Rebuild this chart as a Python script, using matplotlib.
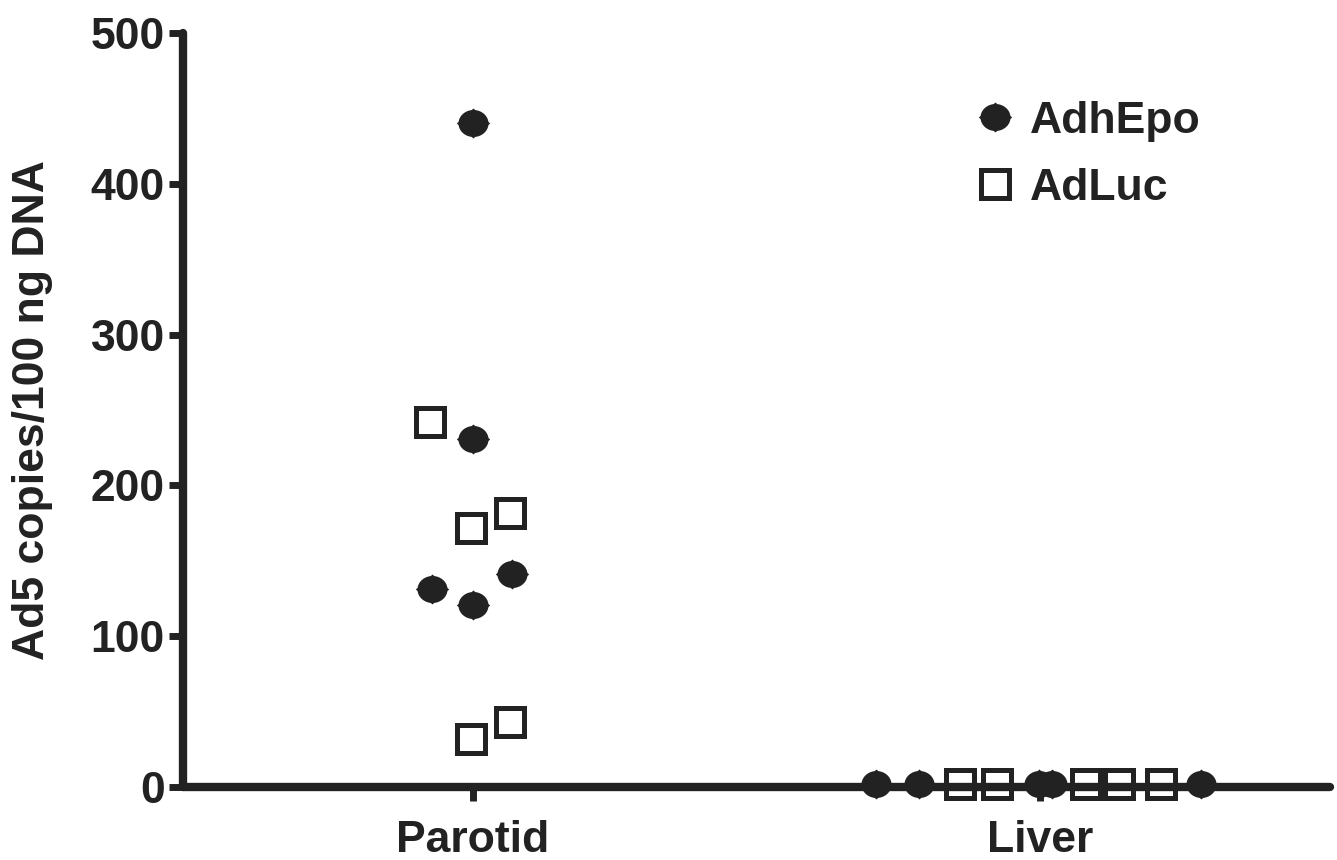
import numpy as np
import matplotlib
matplotlib.use("Agg")
import matplotlib.pyplot as plt
from matplotlib.path import Path

plt.rcParams['font.family'] = ['Liberation Sans', 'DejaVu Sans']
plt.rcParams['font.weight'] = 'bold'

INK = '#222222'

categories = ['Parotid', 'Liver']

# AdhEpo (filled)
adhepo_parotid_y = [440, 231, 131, 121, 141]
adhepo_parotid_dx = [0.0, 0.0, -0.072, 0.0, 0.070]
adhepo_liver_y = [2, 2, 2, 2, 2]
adhepo_liver_dx = [-0.290, -0.214, -0.002, 0.021, 0.283]

# AdLuc (open)
adluc_parotid_y = [242, 172, 182, 32, 43]
adluc_parotid_dx = [-0.075, -0.003, 0.066, -0.003, 0.066]
adluc_liver_y = [2, 2, 2, 2, 2]
adluc_liver_dx = [-0.141, -0.076, 0.080, 0.138, 0.212]

yticks = [0, 100, 200, 300, 400, 500]

# custom marker: rounded body with small diamond tips
th = np.linspace(0, 2 * np.pi, 121)
r_c = 0.9
r_d = 1.0 / (np.abs(np.cos(th)) + np.abs(np.sin(th)))
r = np.maximum(r_c, r_d)
verts = np.column_stack([r * np.cos(th), 0.9 * r * np.sin(th)])
blob = Path(verts, closed=True)

fig = plt.figure(figsize=(13.37, 8.6), dpi=100)
ax = fig.add_axes([183 / 1337, 1 - 787 / 860, (1330 - 183) / 1337, (787 - 33) / 860])

x_e = np.concatenate([0 + np.array(adhepo_parotid_dx), 1 + np.array(adhepo_liver_dx)])
y_e = np.concatenate([adhepo_parotid_y, adhepo_liver_y])
x_l = np.concatenate([0 + np.array(adluc_parotid_dx), 1 + np.array(adluc_liver_dx)])
y_l = np.concatenate([adluc_parotid_y, adluc_liver_y])

ax.plot(x_e, y_e, linestyle='none', marker=blob, ms=24, color=INK, mec=INK, mew=0,
        clip_on=False, zorder=4, label='AdhEpo')
ax.plot(x_l, y_l, linestyle='none', marker='s', ms=20, mfc='none', mec=INK, mew=3.6,
        clip_on=False, zorder=4, label='AdLuc')

ax.set_xlim(-0.51, 1.51)
ax.set_ylim(0, 500)
ax.set_xticks([0, 1])
ax.set_xticklabels(categories)
ax.set_yticks(yticks)

for s in ['top', 'right']:
    ax.spines[s].set_visible(False)
for s in ['left', 'bottom']:
    ax.spines[s].set_linewidth(6)
    ax.spines[s].set_color(INK)
    ax.spines[s].set_capstyle('round')

ax.tick_params(axis='both', colors=INK, labelsize=32, width=5, length=10)
ax.tick_params(axis='y', pad=3)
ax.tick_params(axis='x', pad=14)
for t in ax.get_xticklabels() + ax.get_yticklabels():
    t.set_fontweight('bold')

ax.set_ylabel('Ad5 copies/100 ng DNA', fontsize=32, fontweight='bold', color=INK)
ax.yaxis.set_label_coords(-(183 - 53) / 1147, 0.5)

leg = ax.legend(loc='upper left', bbox_to_anchor=((977 - 183) / 1147, 1 - (101 - 33) / 754),
                frameon=False, fontsize=32, handlelength=0.8, handletextpad=0.4,
                borderpad=0, borderaxespad=0, labelspacing=0.58, numpoints=1)
for t in leg.get_texts():
    t.set_color(INK)
    t.set_fontweight('bold')

fig.savefig('out.png', dpi=100)
